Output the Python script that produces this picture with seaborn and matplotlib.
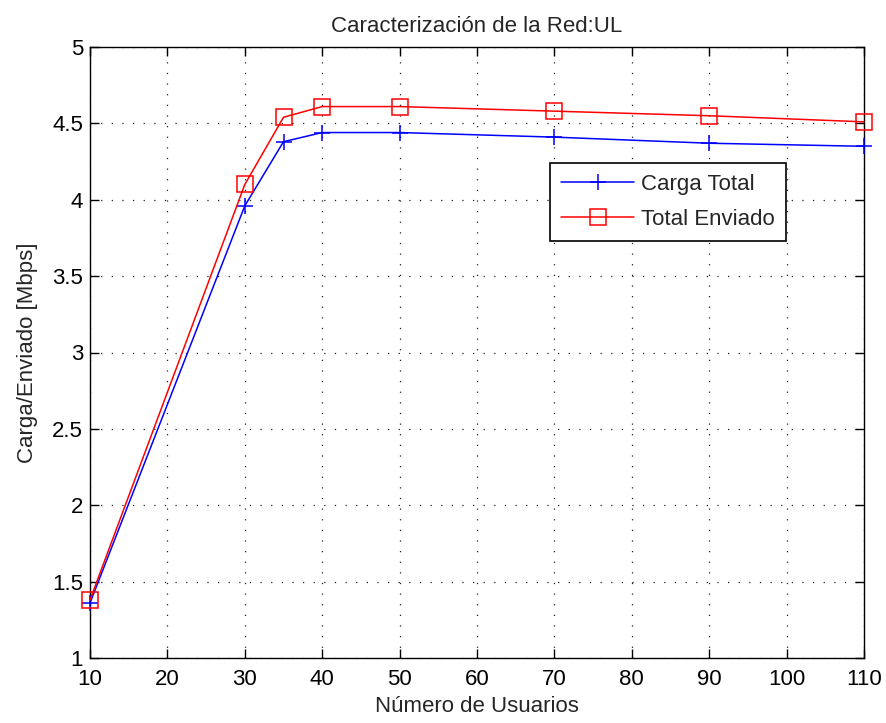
import matplotlib
matplotlib.use("Agg")
import matplotlib.pyplot as plt
import seaborn as sns
import pandas as pd

usuarios = [10, 30, 35, 40, 50, 70, 90, 110]
carga_total = [1.36, 3.96, 4.38, 4.44, 4.44, 4.41, 4.37, 4.35]
total_enviado = [1.38, 4.10, 4.54, 4.61, 4.61, 4.58, 4.55, 4.51]
x_ticks = [10, 20, 30, 40, 50, 60, 70, 80, 90, 100, 110]
y_ticks = [1, 1.5, 2, 2.5, 3, 3.5, 4, 4.5, 5]

sns.set_style("white")
plt.rcParams['font.family'] = ['Liberation Sans', 'DejaVu Sans']

FS = 16

fig = plt.figure(figsize=(8.87, 7.23), dpi=100)
ax = fig.add_axes([90 / 887, 65 / 723, 774 / 887, 611 / 723])

df1 = pd.DataFrame({"x": usuarios, "y": carga_total})
df2 = pd.DataFrame({"x": usuarios, "y": total_enviado})
sns.lineplot(data=df1, x="x", y="y", ax=ax, color="#0000ff", marker="+",
             markersize=12, markeredgewidth=1.1, markeredgecolor="#0000ff",
             linewidth=1.1, label="Carga Total", clip_on=False, zorder=4)
sns.lineplot(data=df2, x="x", y="y", ax=ax, color="#ff0000", marker="s",
             markersize=11, markerfacecolor="none", markeredgecolor="#ff0000",
             markeredgewidth=1.1, linewidth=1.1, label="Total Enviado",
             clip_on=False, zorder=5)

ax.set_xlim(10, 110)
ax.set_ylim(1, 5)
ax.set_xticks(x_ticks)
ax.set_yticks(y_ticks)
ax.set_xticklabels([str(v) for v in x_ticks])
ax.set_yticklabels([("%g" % v) for v in y_ticks])
ax.grid(True, color="#202020", linestyle=(0, (1, 7.5)), linewidth=0.9)
ax.tick_params(axis="both", direction="in", length=6.5, width=1, labelsize=FS,
               colors="black", top=True, right=True, bottom=True, left=True)
ax.tick_params(axis="x", pad=8)
ax.tick_params(axis="y", pad=5)
for s in ax.spines.values():
    s.set_color("black")
    s.set_linewidth(1)
    s.set_visible(True)

ax.set_xlabel("Número de Usuarios", fontsize=FS, labelpad=4)
ax.set_ylabel("Carga/Enviado [Mbps]", fontsize=FS, labelpad=10)
ax.set_title("Caracterización de la Red:UL", fontsize=FS, pad=11)

leg = ax.legend(loc="upper left", bbox_to_anchor=(0.594, 0.810), fontsize=FS,
                frameon=True, fancybox=False, edgecolor="black", framealpha=1,
                handlelength=3.3, handletextpad=0.3, borderpad=0.5,
                labelspacing=0.6, borderaxespad=0)
leg.get_frame().set_linewidth(1.2)

fig.savefig("out.png", dpi=100)
